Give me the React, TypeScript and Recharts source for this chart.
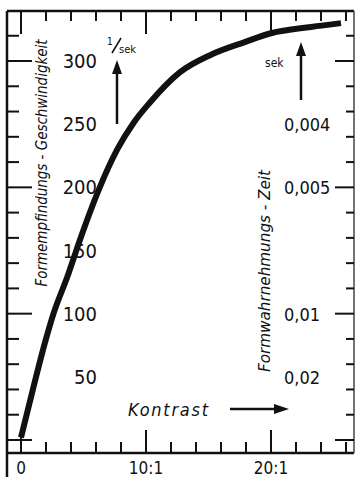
import React from 'react';
import { LineChart, Line, XAxis, YAxis } from 'recharts';

// Kontrast (x) and Formempfindungs-Geschwindigkeit in 1/sek (y)
const contrast = [0, 1, 2, 2.6, 3.7, 4.7, 6.3, 7.7, 9, 10.3, 12.7, 15.2, 17.9, 20, 23.2, 25.6];
const speed = [2, 42, 80, 100, 129, 158, 200, 230, 251, 267, 291, 305, 315, 322, 327, 330];

const xTicks = [0, 2, 4, 6, 8, 10, 12, 14, 16, 18, 20, 22, 24, 26];
const xMajor = [0, 10, 20];
const xLabelValues = [0, 10, 20];
const xLabelTexts = ['0', '10:1', '20:1'];

const yTicks = [0, 20, 40, 50, 60, 80, 100, 120, 140, 150, 160, 180, 200, 220, 240, 250, 260, 280, 300, 320];
const yMajor = [0, 100, 200, 300];
const leftLabelValues = [50, 100, 150, 200, 250, 300];
const rightLabelValues = [250, 200, 100, 50];
const rightLabelTexts = ['0,004', '0,005', '0,01', '0,02'];

const data = contrast.map((c, i) => ({ c, v: speed[i] }));

const X_DOMAIN: [number, number] = [-1.12, 26.64];
const Y_DOMAIN: [number, number] = [-10.3, 339.6];
const INK = '#111111';
const NUM_FONT = '"Liberation Sans Narrow", "DejaVu Sans Condensed", sans-serif';
const TXT_FONT = '"Liberation Sans Narrow", "DejaVu Sans Condensed", sans-serif';

// Annotation layer (titles, units, arrows) drawn inside the chart's own SVG
const Annotations = () => (
  <g>
    <path d="M7,453L7,477" stroke={INK} strokeWidth={2.5} fill="none" />
    <text x={128} y={416} fontFamily={TXT_FONT} fontStyle="italic" fontSize={18} fill={INK} textLength={80} lengthAdjust="spacing">
      Kontrast
    </text>
    <path d="M230,409L278,409" stroke={INK} strokeWidth={2.5} fill="none" />
    <path d="M274,404L289,409L274,414Z" fill={INK} />
    <text
      transform="translate(47,163) rotate(-90)"
      textAnchor="middle"
      fontFamily={TXT_FONT}
      fontStyle="italic"
      fontSize={16}
      fill={INK}
      textLength={247}
      lengthAdjust="spacingAndGlyphs"
    >
      Formempfindungs - Geschwindigkeit
    </text>
    <text
      transform="translate(270,271) rotate(-90)"
      textAnchor="middle"
      fontFamily={TXT_FONT}
      fontStyle="italic"
      fontSize={16}
      fill={INK}
      textLength={202}
      lengthAdjust="spacingAndGlyphs"
    >
      Formwahrnehmungs - Zeit
    </text>
    <text x={107} y={45} fontFamily={TXT_FONT} fontSize={10} fill={INK}>1</text>
    <path d="M112,53L121,38" stroke={INK} strokeWidth={1.5} fill="none" />
    <text x={119} y={53} fontFamily={TXT_FONT} fontSize={11} fill={INK}>sek</text>
    <path d="M117,124L117,70" stroke={INK} strokeWidth={2.5} fill="none" />
    <path d="M112,74L117,60L122,74Z" fill={INK} />
    <text x={265} y={67} fontFamily={TXT_FONT} fontSize={12} fill={INK}>sek</text>
    <path d="M301,100L301,52" stroke={INK} strokeWidth={2.5} fill="none" />
    <path d="M296,56L301,42L306,56Z" fill={INK} />
  </g>
);

const BottomTick = (p: any) => {
  const v = p.payload.value;
  const { x, y } = p;
  const idx = xLabelValues.indexOf(v);
  const len = xMajor.includes(v) ? 23 : 11;
  return (
    <g>
      <path d={`M${x},${y}L${x},${y - len}`} stroke={INK} strokeWidth={2} fill="none" />
      {idx >= 0 && (
        <text x={x} y={y + 21} textAnchor="middle" fontFamily={NUM_FONT} fontSize={17} fill={INK}>
          {xLabelTexts[idx]}
        </text>
      )}
    </g>
  );
};

const TopTick = (p: any) => {
  const v = p.payload.value;
  const { x, y } = p;
  const len = xMajor.includes(v) ? 23 : 10;
  return (
    <g>
      <path d={`M${x},${y}L${x},${y + len}`} stroke={INK} strokeWidth={2} fill="none" />
      {v === xTicks[0] && <Annotations />}
    </g>
  );
};

const LeftTick = (p: any) => {
  const v = p.payload.value;
  const { x, y } = p;
  const len = yMajor.includes(v) ? 25 : 12;
  const showTick = v % 20 === 0;
  return (
    <g>
      {showTick && <path d={`M${x},${y}L${x + len},${y}`} stroke={INK} strokeWidth={2} fill="none" />}
      {leftLabelValues.includes(v) && (
        <text x={x + 90} y={y + 7} textAnchor="end" fontFamily={NUM_FONT} fontSize={20} fill={INK}>
          {String(v)}
        </text>
      )}
    </g>
  );
};

const RightTick = (p: any) => {
  const v = p.payload.value;
  const { x, y } = p;
  const len = yMajor.includes(v) ? 19 : 8;
  const idx = rightLabelValues.indexOf(v);
  const showTick = v % 20 === 0;
  return (
    <g>
      {showTick && <path d={`M${x},${y}L${x - len},${y}`} stroke={INK} strokeWidth={2} fill="none" />}
      {idx >= 0 && (
        <text x={x - 70} y={y + 7} textAnchor="start" fontFamily={NUM_FONT} fontSize={18} fill={INK}>
          {rightLabelTexts[idx]}
        </text>
      )}
    </g>
  );
};

export default function App() {
  return (
    <div style={{ position: 'absolute', left: 0, top: 0, width: 358, height: 477, background: '#fff' }}>
      <LineChart width={358} height={477} data={data} margin={{ top: 0, right: 0, bottom: 0, left: 0 }}>
        <XAxis xAxisId="b" dataKey="c" type="number" orientation="bottom" domain={X_DOMAIN} allowDataOverflow ticks={xTicks} interval={0} height={24} tickSize={0} tickMargin={0} tickLine={false} axisLine={{ stroke: INK, strokeWidth: 2.5 }} tick={BottomTick} />
        <XAxis xAxisId="t" dataKey="c" type="number" orientation="top" domain={X_DOMAIN} allowDataOverflow ticks={xTicks} interval={0} height={11} tickSize={0} tickMargin={0} tickLine={false} axisLine={{ stroke: INK, strokeWidth: 2.5 }} tick={TopTick} />
        <YAxis yAxisId="l" type="number" orientation="left" domain={Y_DOMAIN} allowDataOverflow ticks={yTicks} interval={0} width={7} tickSize={0} tickMargin={0} tickLine={false} axisLine={{ stroke: INK, strokeWidth: 2.5 }} tick={LeftTick} />
        <YAxis yAxisId="r" type="number" orientation="right" domain={Y_DOMAIN} allowDataOverflow ticks={yTicks} interval={0} width={4} tickSize={0} tickMargin={0} tickLine={false} axisLine={{ stroke: '#444', strokeWidth: 1.5 }} tick={RightTick} />
        <Line xAxisId="b" yAxisId="l" dataKey="v" type="monotone" stroke={INK} strokeWidth={6} dot={false} isAnimationActive={false} />
      </LineChart>
    </div>
  );
}
